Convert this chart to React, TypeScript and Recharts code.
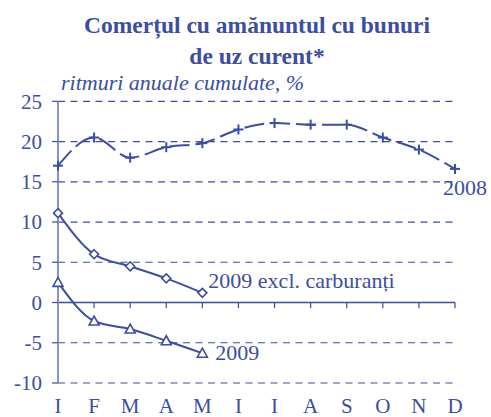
import React from "react";
import {
  LineChart,
  Line,
  XAxis,
  YAxis,
  CartesianGrid,
  ReferenceLine,
  LabelList,
} from "recharts";

const BLUE = "#3b4e9f";
const AXIS_BLUE = "#8594cc";
const FONT = "'Liberation Serif', 'Times New Roman', serif";

// months (Romanian initials), keys kept unique for the category axis
const months = ["I", "F", "M", "A", "M ", "I ", "I  ", "A ", "S", "O", "N", "D"];
const labels = ["I", "F", "M", "A", "M", "I", "I", "A", "S", "O", "N", "D"];

// cumulative annual rates, %
const y2008 = [17, 20.5, 18, 19.3, 19.8, 21.5, 22.3, 22.1, 22.1, 20.5, 19, 16.6];
const y2009ExclFuel = [11.1, 6, 4.5, 3, 1.2];
const y2009 = [2.5, -2.3, -3.3, -4.75, -6.3];

const yTicks = [-10, -5, 0, 5, 10, 15, 20, 25];

const data = months.map((m, i) => ({
  m,
  a: y2008[i],
  b: y2009ExclFuel[i] ?? null,
  c: y2009[i] ?? null,
}));

const PlusDot = (p: any) => {
  if (p.cx == null || p.cy == null) return null;
  const s = 5;
  return (
    <g>
      <line x1={p.cx - s} y1={p.cy} x2={p.cx + s} y2={p.cy} stroke={BLUE} strokeWidth={2} />
      <line x1={p.cx} y1={p.cy - s} x2={p.cx} y2={p.cy + s} stroke={BLUE} strokeWidth={2} />
    </g>
  );
};

const DiamondDot = (p: any) => {
  if (p.cx == null || p.cy == null || p.value == null) return null;
  const s = 4.5;
  return (
    <polygon
      points={`${p.cx},${p.cy - s} ${p.cx + s},${p.cy} ${p.cx},${p.cy + s} ${p.cx - s},${p.cy}`}
      fill="#fff"
      stroke={BLUE}
      strokeWidth={1.6}
    />
  );
};

const TriangleDot = (p: any) => {
  if (p.cx == null || p.cy == null || p.value == null) return null;
  const s = 5;
  return (
    <polygon
      points={`${p.cx},${p.cy - s} ${p.cx + s},${p.cy + s * 0.8} ${p.cx - s},${p.cy + s * 0.8}`}
      fill="#fff"
      stroke={BLUE}
      strokeWidth={1.6}
    />
  );
};

const endLabel = (text: string, last: number, dx: number, dy: number) => (p: any) => {
  if (p.index !== last) return null;
  return (
    <text x={p.x + dx} y={p.y + dy} fill={BLUE} fontSize={22} fontFamily={FONT}>
      {text}
    </text>
  );
};

export default function App() {
  return (
    <div
      style={{
        position: "absolute",
        left: 0,
        top: 0,
        width: 491,
        height: 417,
        background: "#fff",
        fontFamily: FONT,
        color: BLUE,
      }}
    >
      <div
        style={{
          position: "absolute",
          left: 0,
          width: 514,
          top: 10,
          textAlign: "center",
          fontWeight: "bold",
          fontSize: 23.5,
          lineHeight: "31px",
        }}
      >
        Comerțul cu amănuntul cu bunuri
        <br />
        de uz curent*
      </div>
      <div
        style={{
          position: "absolute",
          left: 61,
          top: 70,
          fontStyle: "italic",
          fontSize: 22,
          whiteSpace: "nowrap",
        }}
      >
        ritmuri anuale cumulate, %
      </div>
      <LineChart
        width={491}
        height={417}
        data={data}
        margin={{ top: 101.3, right: 36, left: 0, bottom: 4 }}
        style={{ position: "absolute", left: 0, top: 0 }}
      >
        <CartesianGrid vertical={false} stroke={BLUE} strokeDasharray="7 5.5" strokeWidth={1.2} />
        <XAxis
          dataKey="m"
          height={30}
          interval={0}
          axisLine={false}
          tickLine={false}
          tickMargin={9}
          tickFormatter={(_v: string, i: number) => labels[i]}
          tick={{ fill: BLUE, fontSize: 21, fontFamily: FONT }}
        />
        <YAxis
          width={58}
          domain={[-10, 25]}
          ticks={yTicks}
          interval={0}
          tickSize={6}
          tickMargin={10}
          axisLine={{ stroke: AXIS_BLUE, strokeWidth: 2 }}
          tickLine={{ stroke: BLUE, strokeWidth: 1.2 }}
          tick={{ fill: BLUE, fontSize: 21, fontFamily: FONT }}
        />
        <ReferenceLine y={0} stroke={BLUE} strokeWidth={1.5} />
        {months.map((m) => (
          <ReferenceLine
            key={m}
            segment={[
              { x: m, y: 0 },
              { x: m, y: -0.7 },
            ]}
            stroke={BLUE}
            strokeWidth={1.2}
          />
        ))}
        <Line
          type="monotone"
          dataKey="a"
          stroke={BLUE}
          strokeWidth={2}
          strokeDasharray="20 6"
          dot={<PlusDot />}
          isAnimationActive={false}
        >
          <LabelList dataKey="a" content={endLabel("2008", 11, -12, 26)} />
        </Line>
        <Line
          type="monotone"
          dataKey="b"
          stroke={BLUE}
          strokeWidth={2}
          dot={<DiamondDot />}
          isAnimationActive={false}
        >
          <LabelList dataKey="b" content={endLabel("2009 excl. carburanți", 4, 6, -5)} />
        </Line>
        <Line
          type="monotone"
          dataKey="c"
          stroke={BLUE}
          strokeWidth={2}
          dot={<TriangleDot />}
          isAnimationActive={false}
        >
          <LabelList dataKey="c" content={endLabel("2009", 4, 13, 7)} />
        </Line>
      </LineChart>
    </div>
  );
}
